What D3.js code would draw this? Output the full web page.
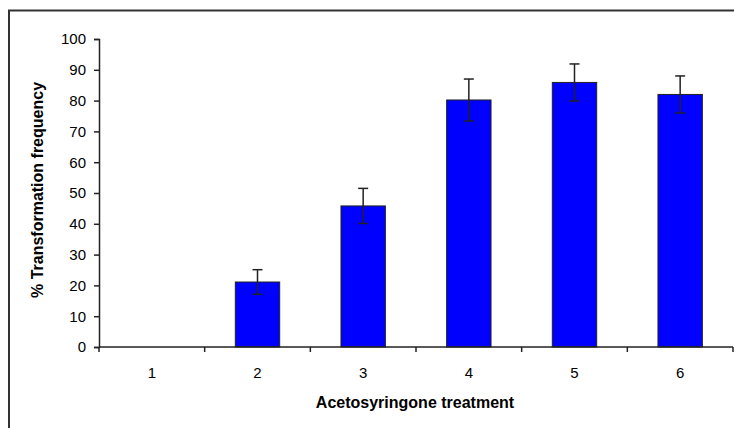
<!DOCTYPE html>
<html>
<head>
<meta charset="utf-8">
<script src="https://cdn.jsdelivr.net/npm/d3@7"></script>
<style>
  body { margin: 0; background: #fff; }
  svg text { font-family: "Liberation Sans", Arial, sans-serif; fill: #000; }
</style>
</head>
<body>
<div id="chart"></div>
<script>
// chart data
var treatments = ["1", "2", "3", "4", "5", "6"];
var frequency = [0, 21.1, 45.8, 80.2, 85.9, 82];
var errors = [0, 4, 5.7, 6.8, 6, 6];
var yTicks = [0, 10, 20, 30, 40, 50, 60, 70, 80, 90, 100];

var width = 734, height = 428,
    margins = {top: 39, right: 1, bottom: 81, left: 99};

var svg = d3.select("#chart").append("svg")
    .attr("width", width)
    .attr("height", height);

// outer frame (only left and top edges visible)
svg.append("path")
    .attr("d", "M9," + height + "V10.5H" + width)
    .attr("fill", "none")
    .attr("stroke", "#333")
    .attr("stroke-width", 2);

var x = d3.scaleBand()
    .domain(treatments)
    .range([margins.left, width - margins.right])
    .paddingInner(0.58)
    .paddingOuter(0.29);

var y = d3.scaleLinear()
    .domain([0, 100])
    .range([height - margins.bottom, margins.top]);

var data = frequency.map(function(d, i) { return {cat: treatments[i], v: d, e: errors[i]}; });

// bars
svg.selectAll("rect.bar")
    .data(data.filter(function(d) { return d.v > 0; }))
    .enter()
    .append("rect")
    .attr("class", "bar")
    .attr("x", function(d) { return x(d.cat); })
    .attr("y", function(d) { return y(d.v); })
    .attr("width", x.bandwidth())
    .attr("height", function(d) { return y(0) - y(d.v); })
    .attr("fill", "#0000ff")
    .attr("stroke", "#222")
    .attr("stroke-width", 1);

// error bars
var errs = svg.selectAll("g.err")
    .data(data.filter(function(d) { return d.e > 0; }))
    .enter()
    .append("g")
    .attr("class", "err")
    .attr("stroke", "#222")
    .attr("stroke-width", 1.5);

errs.append("line")
    .attr("x1", function(d) { return x(d.cat) + x.bandwidth() / 2; })
    .attr("x2", function(d) { return x(d.cat) + x.bandwidth() / 2; })
    .attr("y1", function(d) { return y(d.v + d.e); })
    .attr("y2", function(d) { return y(d.v - d.e); });

errs.selectAll("line.cap")
    .data(function(d) { return [{cat: d.cat, val: d.v + d.e}, {cat: d.cat, val: d.v - d.e}]; })
    .enter()
    .append("line")
    .attr("class", "cap")
    .attr("x1", function(d) { return x(d.cat) + x.bandwidth() / 2 - 5; })
    .attr("x2", function(d) { return x(d.cat) + x.bandwidth() / 2 + 5; })
    .attr("y1", function(d) { return y(d.val); })
    .attr("y2", function(d) { return y(d.val); });

// y axis
var yAxis = svg.append("g")
    .attr("transform", "translate(" + margins.left + ",0)")
    .call(d3.axisLeft(y).tickValues(yTicks).tickSize(5).tickPadding(8));

yAxis.select(".domain").attr("stroke", "#222").attr("stroke-width", 1.5);
yAxis.selectAll(".tick line").attr("stroke", "#222").attr("stroke-width", 1.5);
yAxis.selectAll(".tick text")
    .attr("font-size", 15)
    .attr("font-family", "Liberation Sans, Arial, sans-serif")
    .attr("fill", "#111");

// x axis with ticks at band boundaries
var bounds = treatments.map(function(t) { return x(t) - x.step() * x.paddingInner() / 2; })
    .concat([width - margins.right]);

var xAxis = svg.append("g")
    .attr("transform", "translate(0," + y(0) + ")");

xAxis.append("line")
    .attr("x1", margins.left)
    .attr("x2", width - margins.right)
    .attr("stroke", "#222")
    .attr("stroke-width", 1.5);

xAxis.selectAll("line.tick")
    .data(bounds)
    .enter()
    .append("line")
    .attr("class", "tick")
    .attr("x1", function(d) { return d; })
    .attr("x2", function(d) { return d; })
    .attr("y1", 0)
    .attr("y2", 5)
    .attr("stroke", "#222")
    .attr("stroke-width", 1.5);

xAxis.selectAll("text")
    .data(treatments)
    .enter()
    .append("text")
    .attr("x", function(d) { return x(d) + x.bandwidth() / 2; })
    .attr("y", 31)
    .attr("text-anchor", "middle")
    .attr("font-size", 15)
    .attr("fill", "#111")
    .text(function(d) { return d; });

// axis titles
svg.append("text")
    .attr("x", 415)
    .attr("y", 408)
    .attr("text-anchor", "middle")
    .attr("font-size", 16)
    .attr("font-weight", "bold")
    .text("Acetosyringone treatment");

svg.append("text")
    .attr("transform", "translate(43,190) rotate(-90)")
    .attr("text-anchor", "middle")
    .attr("font-size", 16)
    .attr("font-weight", "bold")
    .text("% Transformation frequency");
</script>
</body>
</html>
